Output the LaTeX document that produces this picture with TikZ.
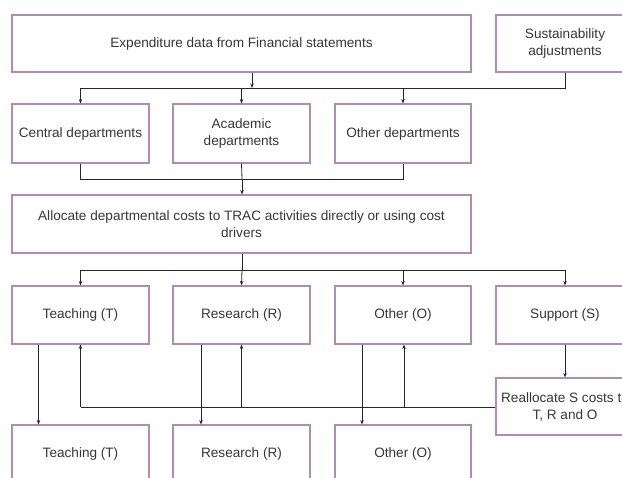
\documentclass[tikz,border=0pt]{standalone}
\usepackage{fontspec}
\setmainfont{Liberation Sans}
\usetikzlibrary{arrows.meta}
\definecolor{boxc}{RGB}{178,138,178}
\definecolor{txt}{RGB}{55,55,55}
\tikzset{
  box/.style={draw=boxc, line width=1.1pt, fill=white, text=txt, align=center,
    inner sep=2pt, font=\fontsize{13.6}{17}\selectfont},
  conn/.style={draw=black!85, line width=0.8pt},
  arr/.style={conn, -{Stealth[length=4.5pt,width=3.5pt]}},
}
\newcommand{\mybox}[6]{% name, x1, y1, x2, y2, text
  \node[box, minimum width={(#4-#2)*1pt}, minimum height={(#5-#3)*1pt}]
    (#1) at ({(#2+#4)/2}, {-(#3+#5)/2}) {#6};}
\begin{document}
\begin{tikzpicture}[x=1pt,y=1pt]
\useasboundingbox (0,0) rectangle (622,-478);
\clip (0,0) rectangle (622,-478);
% row 1
\mybox{top}{12}{15}{471}{72}{Expenditure data from Financial statements}
\mybox{sus}{496}{15}{634}{72}{Sustainability\\adjustments}
% row 2
\mybox{cen}{12}{104}{149}{163}{Central departments}
\mybox{aca}{173}{104}{310}{163}{Academic\\departments}
\mybox{odp}{335}{104}{471}{163}{Other departments}
% allocate
\mybox{alc}{12}{195}{471}{253}{Allocate departmental costs to TRAC activities directly or using cost\\drivers}
% row 3
\mybox{tea}{12}{286}{149}{344}{Teaching (T)}
\mybox{res}{173}{286}{310}{344}{Research (R)}
\mybox{oth}{335}{286}{471}{344}{Other (O)}
\mybox{sup}{496}{286}{634}{344}{Support (S)}
% realloc
\mybox{rea}{496}{378}{634}{435}{Reallocate S costs to\\T, R and O}
% row 4
\mybox{teb}{12}{425}{149}{483}{Teaching (T)}
\mybox{reb}{173}{425}{310}{483}{Research (R)}
\mybox{otb}{335}{425}{471}{483}{Other (O)}
% junction coordinates
\coordinate (j1) at (252,-88);
\coordinate (j1l) at (80.5,-88);
\coordinate (j1r) at (565,-88);
\coordinate (j2) at (242,-179);
\coordinate (j3) at (242,-270);
\coordinate (j4) at (80.5,-407);
% top to departments
\draw[arr] (top.south -| j1) -- (j1);
\draw[conn] (sus.south) -- (j1r) -- (j1l);
\draw[arr] (j1l) -- (j1l |- cen.north);
\draw[arr] (j1 -| aca.north) -- (aca.north);
\draw[arr] (j1 -| odp.north) -- (odp.north);
% departments to allocate
\draw[conn] (cen.south) -- (cen.south |- j2) -- (odp.south |- j2) -- (odp.south);
\draw[conn] (aca.south) -- (j2);
\draw[arr] (j2) -- (alc.north -| j2);
% allocate to activities
\draw[conn] (alc.south -| j3) -- (j3);
\draw[conn] (tea.north |- j3) -- (sup.north |- j3);
\draw[arr] (tea.north |- j3) -- (tea.north);
\draw[arr] (j3) -- (res.north);
\draw[arr] (oth.north |- j3) -- (oth.north);
\draw[arr] (sup.north |- j3) -- (sup.north);
% activities down to final
\draw[arr] (38.5,0 |- tea.south) -- (38.5,0 |- teb.north);
\draw[arr] (201,0 |- res.south) -- (201,0 |- reb.north);
\draw[arr] (362,0 |- oth.south) -- (362,0 |- otb.north);
% support to reallocate
\draw[arr] (sup.south) -- (rea.north);
% reallocation back
\draw[conn] (rea.west |- j4) -- (j4);
\draw[arr] (j4) -- (j4 |- tea.south);
\draw[arr] (res.south |- j4) -- (res.south);
\draw[arr] (404,0 |- j4) -- (404,0 |- oth.south);
\end{tikzpicture}
\end{document}
